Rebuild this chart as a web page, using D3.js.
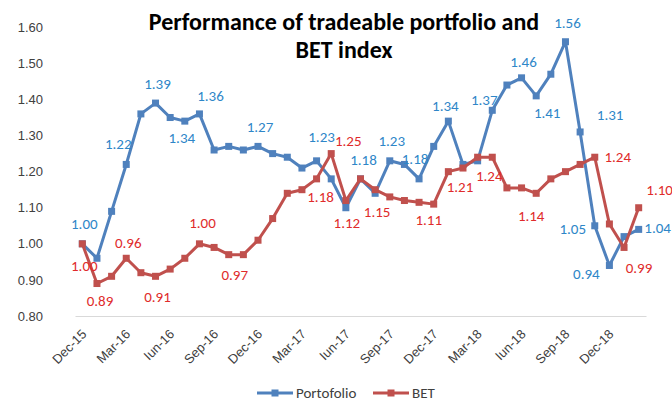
<!DOCTYPE html>
<html><head><meta charset="utf-8">
<script src="https://cdn.jsdelivr.net/npm/d3@7"></script>
<style>
body{margin:0;background:#fff;}
svg{display:block;font-family:Calibri,Carlito,Lato,"Open Sans",sans-serif;}
</style></head>
<body><svg id="c" width="672" height="402"></svg>
<script>
const months = ["Dec-15","Jan-16","Feb-16","Mar-16","Apr-16","May-16","Iun-16","Jul-16","Aug-16","Sep-16","Oct-16","Nov-16",
"Dec-16","Jan-17","Feb-17","Mar-17","Apr-17","May-17","Iun-17","Jul-17","Aug-17","Sep-17","Oct-17","Nov-17",
"Dec-17","Jan-18","Feb-18","Mar-18","Apr-18","May-18","Iun-18","Jul-18","Aug-18","Sep-18","Oct-18","Nov-18",
"Dec-18","Jan-19","Feb-19"];
const portofolio = [1.00,0.96,1.09,1.22,1.36,1.39,1.35,1.34,1.36,1.26,1.27,1.26,
1.27,1.25,1.24,1.21,1.23,1.18,1.10,1.18,1.14,1.23,1.22,1.18,
1.27,1.34,1.22,1.23,1.37,1.44,1.46,1.41,1.47,1.56,1.31,1.05,
0.94,1.02,1.04];
const bet = [1.00,0.89,0.91,0.96,0.92,0.91,0.93,0.96,1.00,0.99,0.97,0.97,
1.01,1.07,1.14,1.15,1.18,1.25,1.12,1.18,1.15,1.13,1.12,1.115,
1.11,1.20,1.21,1.24,1.24,1.155,1.155,1.14,1.18,1.20,1.22,1.24,
1.055,0.99,1.10];
const xTickLabels = ["Dec-15","Mar-16","Iun-16","Sep-16","Dec-16","Mar-17","Iun-17","Sep-17","Dec-17","Mar-18","Iun-18","Sep-18","Dec-18"];
const yTicks = [0.8,0.9,1.0,1.1,1.2,1.3,1.4,1.5,1.6];
const seriesNames = ["Portofolio","BET"];

// data-label placement (index into series, offset from point)
const portLabels = [[0,2,-20],[3,-8,-21],[5,2,-19],[7,-3,17],[8,11,-18],[12,2,-20],[16,5,-24],[19,3,-19],[21,2,-20],[23,-4,-20],[25,-3,-15],[28,-8,-11],[30,2,-16],[31,11,17],[33,2,-19],[34,30,-17],[35,-22,3],[36,-23,8],[38,19,-2]];
const betLabels = [[0,2,22],[1,3,17],[3,2,-16],[5,2,20],[8,3,-21],[10,6,20],[16,4,18],[17,17,-13],[18,1,22],[20,2,22],[24,-5,16],[26,-3,19],[28,-3,19],[31,-5,22],[35,23,0],[37,15,20],[38,21,-18]];

const svg = d3.select("#c");
const x = d3.scaleBand().domain(months).range([75,646]);
const y = d3.scaleLinear().domain([0.8,1.6]).range([316,27.3]);
const cx = m => x(m) + x.bandwidth()/2;

// title
const title = svg.append("text").attr("x",344).attr("text-anchor","middle")
  .attr("font-size",24).attr("font-weight","bold").attr("fill","#000");
title.append("tspan").attr("x",344).attr("y",30).text("Performance of tradeable portfolio and");
title.append("tspan").attr("x",344).attr("y",58).text("BET index");

// y axis
const ya = svg.append("g").attr("transform","translate(75,0)")
  .call(d3.axisLeft(y).tickValues(yTicks).tickFormat(d3.format(".2f")).tickSize(0).tickPadding(32));
ya.select(".domain").remove();
ya.selectAll("text").attr("font-size",13).attr("fill","#404040").attr("font-family",null);

// x axis
const xa = svg.append("g").attr("transform","translate(0,316)")
  .call(d3.axisBottom(x).tickValues(months.filter(m=>xTickLabels.includes(m))).tickSize(0).tickSizeOuter(0));
xa.select(".domain").attr("stroke","#D9D9D9").attr("stroke-width",1);
xa.selectAll("text").attr("font-size",13).attr("fill","#404040").attr("font-family",null)
  .attr("text-anchor","end").attr("x",0).attr("y",0).attr("dy",null)
  .attr("transform","translate(5,19) rotate(-45)");

const line = d3.line().x((d,i)=>cx(months[i])).y(d=>y(d));
const series = [
  {name:seriesNames[0], vals:portofolio, color:"#4F81BD", lab:"#2E86C8", labels:portLabels},
  {name:seriesNames[1], vals:bet, color:"#C0504D", lab:"#E02B2B", labels:betLabels}
];
series.forEach(s=>{
  svg.append("path").datum(s.vals).attr("d",line).attr("fill","none")
    .attr("stroke",s.color).attr("stroke-width",3).attr("stroke-linejoin","round");
  svg.append("g").selectAll("rect").data(s.vals).join("rect")
    .attr("x",(d,i)=>cx(months[i])-3.5).attr("y",d=>y(d)-3.5)
    .attr("width",7).attr("height",7).attr("fill",s.color);
});
series.forEach(s=>{
  svg.append("g").selectAll("text").data(s.labels).join("text")
    .attr("x",d=>cx(months[d[0]])+d[1]).attr("y",d=>y(s.vals[d[0]])+d[2])
    .attr("dy","0.35em").attr("text-anchor","middle").attr("font-size",15)
    .attr("fill",s.lab).text(d=>s.vals[d[0]].toFixed(2));
});

// legend
const lg = [{x:257,c:series[0].color,t:seriesNames[0]},{x:373,c:series[1].color,t:seriesNames[1]}];
lg.forEach(l=>{
  svg.append("line").attr("x1",l.x).attr("x2",l.x+36).attr("y1",393).attr("y2",393)
    .attr("stroke",l.c).attr("stroke-width",3);
  svg.append("rect").attr("x",l.x+18-3.5).attr("y",393-3.5).attr("width",7).attr("height",7).attr("fill",l.c);
  svg.append("text").attr("x",l.x+39).attr("y",393).attr("dy","0.35em").attr("font-size",15)
    .attr("fill","#404040").text(l.t);
});
</script></body></html>
